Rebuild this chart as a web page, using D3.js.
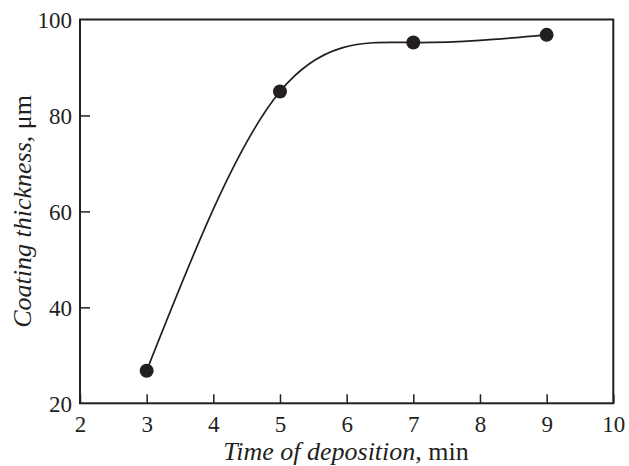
<!DOCTYPE html>
<html lang="en">
<head>
    <meta charset="UTF-8">
    <title>Coating thickness vs time of deposition</title>
    <script src="https://d3js.org/d3.v7.min.js"></script>
    <style>
        body {
            margin: 0;
            background-color: #fff;
        }
        svg text {
            font-family: "Liberation Serif", "DejaVu Serif", serif;
            fill: #231f20;
        }
        .tick-label {
            font-size: 23px;
        }
        .axis-title {
            font-size: 26px;
        }
    </style>
</head>
<body>
    <div id="chart"></div>

    <script>
        // data
        const times = [3, 5, 7, 9];
        const thickness = [26.8, 85.0, 95.2, 96.8];
        const xTicks = [2, 3, 4, 5, 6, 7, 8, 9, 10];
        const yTicks = [20, 40, 60, 80, 100];

        const width = 629, height = 466;
        const margin = {top: 19.5, right: 15.7, bottom: 62.7, left: 80};
        const ink = '#231f20';

        const svg = d3.select('#chart').append('svg')
            .attr('width', width)
            .attr('height', height);

        const x = d3.scaleLinear()
            .domain([2, 10])
            .range([margin.left, width - margin.right]);

        const y = d3.scaleLinear()
            .domain([20, 100])
            .range([height - margin.bottom, margin.top]);

        // frame
        svg.append('rect')
            .attr('x', x(2))
            .attr('y', y(100))
            .attr('width', x(10) - x(2))
            .attr('height', y(20) - y(100))
            .attr('fill', 'none')
            .attr('stroke', ink)
            .attr('stroke-width', 2);

        // bottom axis, ticks pointing inward
        const xAxis = svg.append('g')
            .attr('transform', `translate(0,${y(20)})`)
            .call(d3.axisBottom(x).tickValues(xTicks).tickSize(-9));
        xAxis.select('.domain').remove();
        xAxis.selectAll('line').attr('stroke', ink).attr('stroke-width', 1.5);
        xAxis.selectAll('text')
            .attr('class', 'tick-label')
            .attr('y', 29)
            .attr('dy', 0)
            .attr('fill', ink);

        // left axis, ticks pointing inward
        const yAxis = svg.append('g')
            .attr('transform', `translate(${x(2)},0)`)
            .call(d3.axisLeft(y).tickValues(yTicks).tickSize(-10));
        yAxis.select('.domain').remove();
        yAxis.selectAll('line').attr('stroke', ink).attr('stroke-width', 1.5);
        yAxis.selectAll('text')
            .attr('class', 'tick-label')
            .attr('x', -8)
            .attr('dy', '0.35em')
            .attr('fill', ink);
        yAxis.selectAll('.tick').filter(d => d === 20 || d === 100).select('line').remove();

        // smooth curve through the points
        const pts = times.map((t, i) => [t, thickness[i]]);
        const line = d3.line()
            .x(d => x(d[0]))
            .y(d => y(d[1]))
            .curve(d3.curveNatural);

        svg.append('path')
            .datum(pts)
            .attr('d', line)
            .attr('fill', 'none')
            .attr('stroke', ink)
            .attr('stroke-width', 1.7);

        svg.selectAll('.dot')
            .data(pts)
            .enter()
            .append('circle')
            .attr('class', 'dot')
            .attr('cx', d => x(d[0]))
            .attr('cy', d => y(d[1]))
            .attr('r', 7)
            .attr('fill', ink);

        // axis titles
        const xTitle = svg.append('text')
            .attr('class', 'axis-title')
            .attr('x', 346)
            .attr('y', 460)
            .attr('text-anchor', 'middle');
        xTitle.append('tspan').attr('font-style', 'italic').text('Time of deposition');
        xTitle.append('tspan').text(', min');

        const yTitle = svg.append('text')
            .attr('class', 'axis-title')
            .attr('transform', `translate(31,${(y(20) + y(100)) / 2}) rotate(-90)`)
            .attr('text-anchor', 'middle');
        yTitle.append('tspan').attr('font-style', 'italic').text('Coating thickness');
        yTitle.append('tspan').text(', μm');
    </script>
</body>
</html>
